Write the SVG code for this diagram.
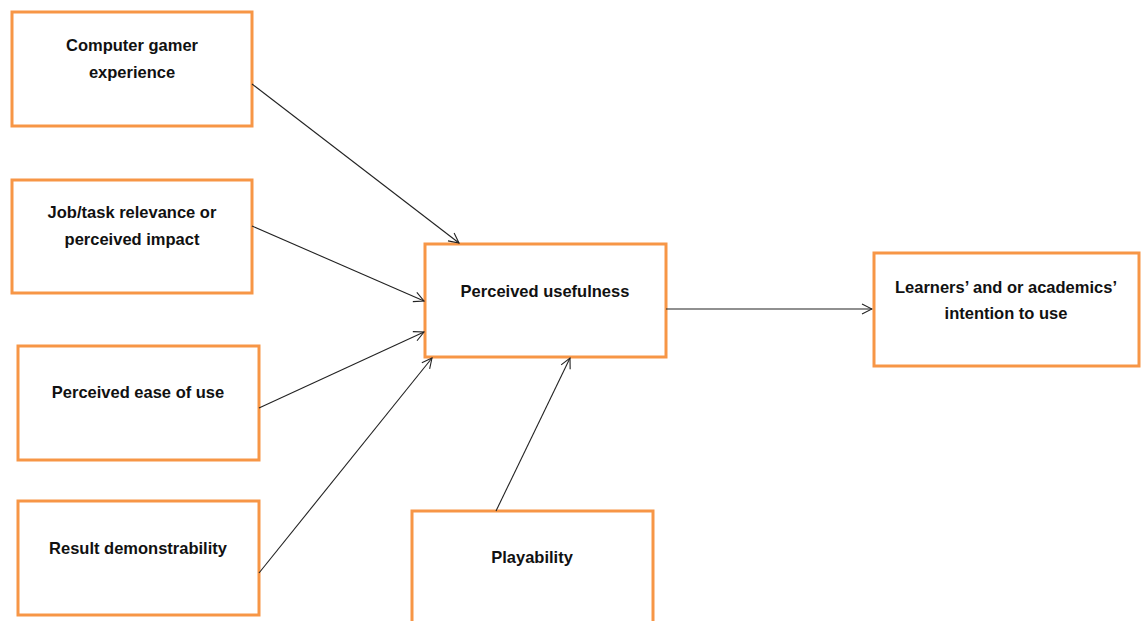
<svg xmlns="http://www.w3.org/2000/svg" width="1146" height="621" viewBox="0 0 1146 621">
<style>
.box{fill:#fff;stroke:#F79646;stroke-width:3}
.lbl{font-family:"Liberation Sans",Arial,sans-serif;font-weight:bold;font-size:16.5px;fill:#111;text-anchor:middle}
.con{stroke:#222;stroke-width:1.1;fill:none;marker-end:url(#ah)}
</style>
<defs>
<marker id="ah" viewBox="0 0 12 12" refX="11" refY="6" markerWidth="12" markerHeight="12" markerUnits="userSpaceOnUse" orient="auto">
<path d="M1,1 L11,6 L1,11" fill="none" stroke="#222" stroke-width="1.1"/>
</marker>
</defs>
<rect width="1146" height="621" fill="#fff"/>
<g id="n1"><rect class="box" x="12" y="12" width="240" height="114"/>
<text class="lbl" x="132" y="51">Computer gamer</text><text class="lbl" x="132" y="78">experience</text></g>
<g id="n2"><rect class="box" x="12" y="180" width="240" height="113"/>
<text class="lbl" x="132" y="218">Job/task relevance or</text><text class="lbl" x="132" y="245">perceived impact</text></g>
<g id="n3"><rect class="box" x="18" y="346" width="241" height="114"/>
<text class="lbl" x="138" y="398">Perceived ease of use</text></g>
<g id="n4"><rect class="box" x="18" y="501" width="241" height="114"/>
<text class="lbl" x="138" y="554">Result demonstrability</text></g>
<g id="n5"><rect class="box" x="425" y="244" width="241" height="113"/>
<text class="lbl" x="545" y="297">Perceived usefulness</text></g>
<g id="n6"><rect class="box" x="874" y="253" width="265" height="113"/>
<text class="lbl" x="1006" y="319" dy="-26">Learners’ and or academics’</text><text class="lbl" x="1006" y="319">intention to use</text></g>
<g id="n7"><rect class="box" x="412" y="511" width="241" height="130"/>
<text class="lbl" x="532" y="563">Playability</text></g>
<g id="connectors">
<line class="con" x1="252" y1="84" x2="459" y2="243"/>
<line class="con" x1="252" y1="226" x2="424" y2="301"/>
<line class="con" x1="259" y1="408" x2="424" y2="332"/>
<line class="con" x1="259" y1="573" x2="432" y2="358"/>
<line class="con" x1="496" y1="511" x2="570" y2="358"/>
<line class="con" x1="666" y1="309" x2="872" y2="309"/>
</g>
</svg>
